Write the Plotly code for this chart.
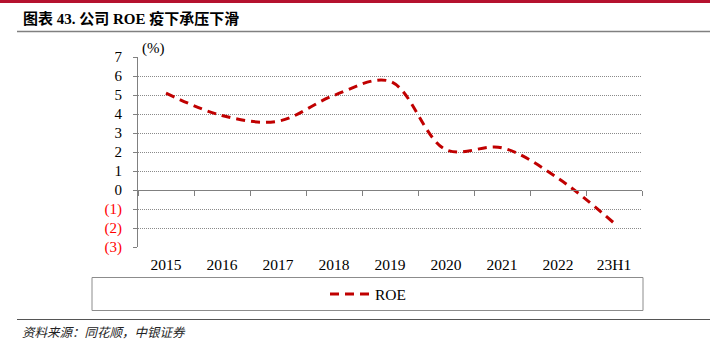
import plotly.graph_objects as go

categories = ["2015", "2016", "2017", "2018", "2019", "2020", "2021", "2022", "23H1"]
roe = [5.1, 3.92, 3.62, 4.98, 5.72, 2.12, 2.22, 0.62, -1.74]
y_tickvals = [-3, -2, -1, 0, 1, 2, 3, 4, 5, 6, 7]
y_ticktext = ["<span style='color:#FF0000'>(3)</span>", "<span style='color:#FF0000'>(2)</span>",
              "<span style='color:#FF0000'>(1)</span>", "0", "1", "2", "3", "4", "5", "6", "7"]

W, H = 710, 349
L, R, T, B = 138, 68, 57, 102
pw, ph = W - L - R, H - T - B

def px_to_paper_x(px):
    return (px - L) / pw

def px_to_paper_y(py):
    return (H - B - py) / ph

fig = go.Figure()
fig.add_trace(go.Scatter(
    x=categories, y=roe, mode="lines", name="ROE",
    line=dict(color="#C00000", width=3, dash="9px,6px", shape="spline", smoothing=1.0),
    xaxis="x", yaxis="y",
))
# invisible trace to activate the zero-line category axis
fig.add_trace(go.Scatter(x=categories, y=[None]*len(categories), xaxis="x2", yaxis="y",
                         showlegend=False, hoverinfo="skip"))

serif = "Liberation Serif, Times New Roman, serif"
fig.update_layout(
    width=W, height=H,
    margin=dict(l=L, r=R, t=T, b=B),
    paper_bgcolor="white", plot_bgcolor="white",
    font=dict(family=serif, size=15, color="#000"),
    xaxis=dict(type="category", categoryorder="array", categoryarray=categories,
               range=[-0.5, len(categories) - 0.5],
               showgrid=False, zeroline=False, showline=False, ticks="",
               tickfont=dict(family=serif, size=15.5, color="#000"), ticklabelstandoff=6),
    xaxis2=dict(type="category", categoryorder="array", categoryarray=categories,
                range=[-0.5, len(categories) - 0.5], overlaying="x",
                anchor="free", position=3 / 10, side="bottom",
                showgrid=False, zeroline=False, showline=True, linecolor="#808080", linewidth=1,
                ticks="outside", tickson="boundaries", ticklen=5, tickcolor="#808080",
                showticklabels=False),
    yaxis=dict(range=[-3.0001, 7.0001], tickvals=y_tickvals, ticktext=y_ticktext,
               showgrid=True, gridcolor="#8a8a8a", griddash="1px,1px", gridwidth=1,
               zeroline=False, showline=True, linecolor="#808080", linewidth=1,
               ticks="outside", ticklen=4, tickcolor="#808080",
               tickfont=dict(family=serif, size=15, color="#000"), ticklabelstandoff=8),
    showlegend=True,
    legend=dict(orientation="h", x=px_to_paper_x(368), y=px_to_paper_y(294.5),
                xanchor="center", yanchor="middle", bgcolor="rgba(0,0,0,0)",
                font=dict(family=serif, size=15.5, color="#000"),
                itemwidth=40, tracegroupgap=0),
    shapes=[
        # top red bar
        dict(type="rect", xref="paper", yref="paper", x0=px_to_paper_x(0), x1=px_to_paper_x(W),
             y0=px_to_paper_y(0), y1=px_to_paper_y(3), fillcolor="#B5122E", line=dict(width=0)),
        # title underline
        dict(type="line", xref="paper", yref="paper", x0=px_to_paper_x(17), x1=px_to_paper_x(W),
             y0=px_to_paper_y(31.5), y1=px_to_paper_y(31.5), line=dict(color="#808080", width=1.5)),
        # legend box
        dict(type="rect", xref="paper", yref="paper", x0=px_to_paper_x(92), x1=px_to_paper_x(643),
             y0=px_to_paper_y(277.5), y1=px_to_paper_y(310.5), line=dict(color="#8c8c8c", width=1),
             fillcolor="rgba(0,0,0,0)"),
        # footer line
        dict(type="line", xref="paper", yref="paper", x0=px_to_paper_x(17), x1=px_to_paper_x(W),
             y0=px_to_paper_y(319.5), y1=px_to_paper_y(319.5), line=dict(color="#555555", width=1.2)),
    ],
    annotations=[
        dict(text="<b>图表 43. 公司 ROE 疫下承压下滑</b>", xref="paper", yref="paper",
             x=px_to_paper_x(21), y=px_to_paper_y(18), xanchor="left", yanchor="middle",
             showarrow=False, font=dict(family="Liberation Serif, Noto Sans CJK SC", size=15, color="#000")),
        dict(text="(%)", xref="paper", yref="paper", x=px_to_paper_x(140), y=px_to_paper_y(48),
             xanchor="left", yanchor="middle", showarrow=False,
             font=dict(family=serif, size=15, color="#000")),
        dict(text="<i>资料来源：同花顺，中银证券</i>", xref="paper", yref="paper",
             x=px_to_paper_x(20), y=px_to_paper_y(331), xanchor="left", yanchor="middle",
             showarrow=False, font=dict(family="Noto Sans CJK SC", size=12.5, color="#222")),
    ],
)

fig.write_html("out.html")
